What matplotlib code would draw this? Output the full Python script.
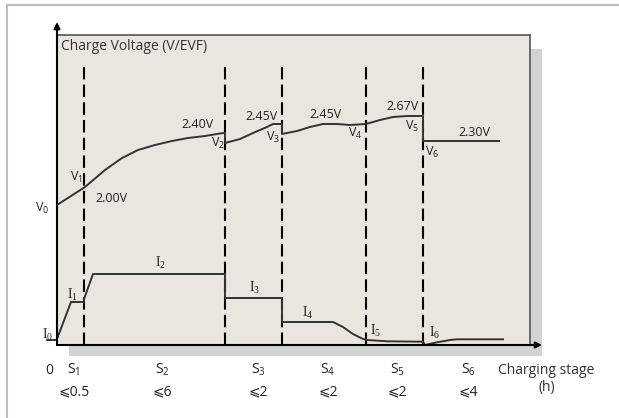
import matplotlib.pyplot as plt
from matplotlib.patches import Rectangle
from matplotlib.lines import Line2D

plt.rcParams['font.family'] = ['Open Sans', 'DejaVu Sans']
plt.rcParams['mathtext.fontset'] = 'custom'
plt.rcParams['mathtext.rm'] = 'Liberation Serif'
plt.rcParams['mathtext.sf'] = 'Open Sans'

# schematic units: x = time position along the stage axis, y = level in the panel
stage_edges = [27, 168, 225, 309, 366]
stage_names = ['1', '2', '3', '4', '5', '6']
stage_limits = ['⩽0.5', '⩽6', '⩽2', '⩽2', '⩽2', '⩽4']

volt_x = [0, 28, 48, 65, 81, 98, 115, 131, 148, 166, 168,
          168, 183, 196, 210, 216, 225,
          225, 240, 253, 266, 280, 293, 309, 323, 336, 350, 366,
          366, 442]
volt_y = [140, 158, 175, 187, 195, 200, 204, 207, 209, 212, 212,
          202, 206, 212, 218, 221, 221,
          211, 214, 218, 221, 221, 220, 221, 225, 228, 229, 229,
          204, 204]
volt_labels = ['2.00V', '2.40V', '2.45V', '2.45V', '2.67V', '2.30V']

curr_x = [0, 14, 27, 27, 36, 168, 168, 225, 225, 276, 286, 296, 306, 310, 330, 366,
          368, 380, 393, 400, 446]
curr_y = [6, 43, 43, 46, 71, 71, 47, 47, 23, 23, 18, 11, 6, 5, 3.7, 3.3,
          0, 2.7, 5, 5.7, 5.7]

fig = plt.figure(figsize=(6.19, 4.18), dpi=100)
ax = fig.add_axes([57 / 619, 73 / 418, 473 / 619, 310 / 418])
ax.set_xlim(0, 473)
ax.set_ylim(0, 310)
ax.set_facecolor('none')
ax.set_xticks([])
ax.set_yticks([])
for s in ['left', 'bottom']:
    ax.spines[s].set_visible(False)
for s in ['top', 'right']:
    ax.spines[s].set_color('#555555')
    ax.spines[s].set_linewidth(1.2)

# outer frame
fig.add_artist(Line2D([7 / 619, 1], [1 - 5 / 418, 1 - 5 / 418], color='#bdbdbd', lw=1.5))
fig.add_artist(Line2D([7 / 619, 7 / 619], [0, 1 - 5 / 418], color='#bdbdbd', lw=1.5))

# shadow and panel
ax.add_patch(Rectangle((12, -11), 473, 307, facecolor='#d2d3d3', edgecolor='none',
                       clip_on=False, zorder=0))
ax.add_patch(Rectangle((0, 0), 473, 310, facecolor='#e8e6df', edgecolor='none',
                       clip_on=False, zorder=0.5))

# axes arrows
ax.annotate('', xy=(0, 323), xytext=(0, 0),
            arrowprops=dict(arrowstyle='-|>', color='black', lw=1.5,
                            mutation_scale=9, shrinkA=0, shrinkB=0),
            annotation_clip=False, zorder=5)
ax.annotate('', xy=(485, 0), xytext=(0, 0),
            arrowprops=dict(arrowstyle='-|>', color='black', lw=1.5,
                            mutation_scale=9, shrinkA=0, shrinkB=0),
            annotation_clip=False, zorder=5)

# stage boundaries
for xe in stage_edges:
    ax.plot([xe, xe], [0, 278], color='black', lw=1.5, ls=(0, (6, 2.5)), zorder=3)

# curves
ax.plot(volt_x, volt_y, color='#333333', lw=1.4, zorder=4)
ax.plot(curr_x, curr_y, color='#333333', lw=1.4, zorder=4)
ax.plot([-10, 0], [5, 5], color='#333333', lw=1.4, zorder=4, clip_on=False)

fs = 9
ax.text(4, 298, 'Charge Voltage (V/EVF)', fontsize=10, ha='left', va='center', color='#333333')

v_pos = [(-15, 137), (19, 168), (161, 202), (216, 208), (298, 212), (355, 219), (375, 193)]
for i, (x, y) in enumerate(v_pos):
    ax.text(x, y, r'$\mathsf{V}_{\mathsf{%d}}$' % i, fontsize=fs, ha='center', va='center',
            color='#222222')

vl_pos = [(54, 146), (141, 220), (205, 228), (269, 231), (346, 238), (417, 213)]
for lab, (x, y) in zip(volt_labels, vl_pos):
    ax.text(x, y, lab, fontsize=fs, ha='center', va='center', color='#222222')

i_pos = [(-9, 10), (16, 50), (103, 82), (198, 57), (251, 32), (319, 14), (378, 12)]
for i, (x, y) in enumerate(i_pos):
    ax.text(x, y, r'$\mathrm{I}_{\mathrm{%d}}$' % i, fontsize=fs + 1, ha='center', va='center',
            color='#222222')

ax.text(-8, -25, '0', fontsize=fs + 1, ha='center', va='center', color='#222222')
s_x = [17, 105, 201, 271, 340, 411]
for name, lim, x in zip(stage_names, stage_limits, s_x):
    ax.text(x, -25, r'$\mathsf{S}_{\mathsf{%s}}$' % name, fontsize=fs + 1, ha='center',
            va='center', color='#222222')
    ax.text(x, -47, lim, fontsize=fs + 1, ha='center', va='center', color='#222222')

ax.text(489, -25, 'Charging stage', fontsize=fs + 1, ha='center', va='center', color='#333333')
ax.text(490, -43, '(h)', fontsize=fs + 1, ha='center', va='center', color='#333333')

fig.savefig('out.png', dpi=100)
